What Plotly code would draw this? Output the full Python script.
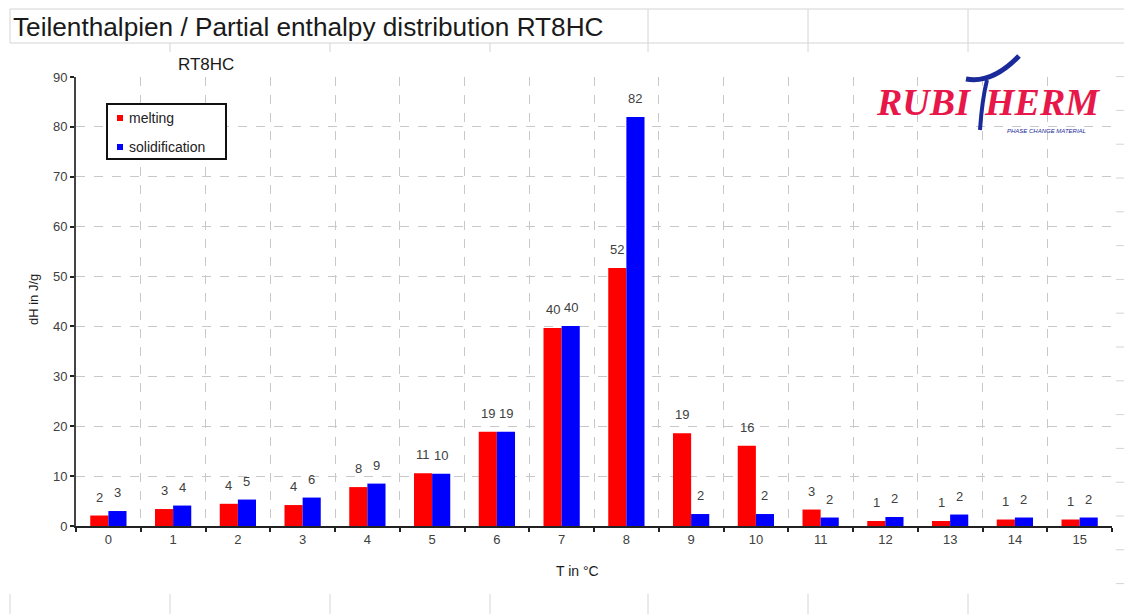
import math
import plotly.graph_objects as go

# ---------------- data ----------------
categories = [str(i) for i in range(16)]
melting = [2.1, 3.4, 4.45, 4.2, 7.8, 10.55, 18.9, 39.7, 51.7, 18.6, 16.1, 3.3, 1.0, 1.0, 1.3, 1.3]
solidification = [3.0, 4.1, 5.3, 5.7, 8.5, 10.45, 18.9, 40.1, 82.0, 2.4, 2.4, 1.7, 1.8, 2.3, 1.7, 1.7]
y_tick_vals = list(range(0, 100, 10))

title_text = "Teilenthalpien / Partial enthalpy distribution RT8HC"
chart_title = "RT8HC"
x_title = "T in °C"
y_title = "dH in J/g"

# ---------------- geometry helpers (pixel -> paper) ----------------
W, H = 1124, 614
L, R, T, B = 76, 1112, 77, 526


def px(x):
    return (x - L) / (R - L)


def py(y):
    return (B - y) / (B - T)


FONT = "Liberation Sans, Arial, sans-serif"
LABEL_COLOR = "#404040"
LOGO_RED = "#E8174A"
LOGO_BLUE = "#1a2a9a"

fig = go.Figure()
fig.add_bar(x=categories, y=melting, name="melting",
            marker=dict(color="#FF0000", line=dict(width=0)), showlegend=False)
fig.add_bar(x=categories, y=solidification, name="solidification",
            marker=dict(color="#0000FF", line=dict(width=0)), showlegend=False)

annotations = []
# data labels
for cat, v in zip(categories, melting):
    annotations.append(dict(x=cat, y=v, xref="x", yref="y", text=str(math.floor(v + 0.5)),
                            showarrow=False, xshift=-9, yshift=9, yanchor="bottom",
                            font=dict(family=FONT, size=13, color=LABEL_COLOR)))
for cat, v in zip(categories, solidification):
    annotations.append(dict(x=cat, y=v, xref="x", yref="y", text=str(math.floor(v + 0.5)),
                            showarrow=False, xshift=9, yshift=9, yanchor="bottom",
                            font=dict(family=FONT, size=13, color=LABEL_COLOR)))

# titles
annotations.append(dict(x=px(11), y=py(27), xref="paper", yref="paper", text=title_text,
                        showarrow=False, xanchor="left", yanchor="middle",
                        font=dict(family=FONT, size=26.2, color="#1a1a1a")))
annotations.append(dict(x=px(206), y=py(64), xref="paper", yref="paper", text=chart_title,
                        showarrow=False, xanchor="center", yanchor="middle",
                        font=dict(family=FONT, size=17, color="#1a1a1a")))
annotations.append(dict(x=px(577), y=py(571), xref="paper", yref="paper", text=x_title,
                        showarrow=False, xanchor="center", yanchor="middle",
                        font=dict(family=FONT, size=14, color="#1a1a1a")))
annotations.append(dict(x=px(33), y=py(300), xref="paper", yref="paper", text=y_title,
                        showarrow=False, xanchor="center", yanchor="middle", textangle=-90,
                        font=dict(family=FONT, size=13, color="#1a1a1a")))

# legend texts
annotations.append(dict(x=px(127), y=py(118), xref="paper", yref="paper", text="melting",
                        showarrow=False, xanchor="left", yanchor="middle",
                        font=dict(family=FONT, size=14, color="#222222")))
annotations.append(dict(x=px(127), y=py(147), xref="paper", yref="paper", text="solidification",
                        showarrow=False, xanchor="left", yanchor="middle",
                        font=dict(family=FONT, size=14, color="#222222")))

# logo
LOGO_FONT = dict(family="Liberation Serif, Times New Roman, serif", size=38, color=LOGO_RED)
annotations.append(dict(x=px(973), y=py(102), xref="paper", yref="paper",
                        text="<b><i>RUBI</i></b>", showarrow=False,
                        xanchor="right", yanchor="middle", font=LOGO_FONT))
annotations.append(dict(x=px(982), y=py(102), xref="paper", yref="paper",
                        text="<b><i>HERM</i></b>", showarrow=False,
                        xanchor="left", yanchor="middle", font=LOGO_FONT))
annotations.append(dict(x=px(1046), y=py(131), xref="paper", yref="paper",
                        text="<i>PHASE CHANGE MATERIAL</i>",
                        showarrow=False, xanchor="center", yanchor="middle",
                        font=dict(family=FONT, size=6, color=LOGO_BLUE)))

shapes = []
GRID = "#d4d4d4"
# spreadsheet cell lines
for yy in (9, 43):
    shapes.append(dict(type="line", xref="paper", yref="paper", x0=px(10), x1=px(1124),
                       y0=py(yy), y1=py(yy), line=dict(color=GRID, width=1)))
shapes.append(dict(type="line", xref="paper", yref="paper", x0=px(10), x1=px(10),
                   y0=py(9), y1=py(43), line=dict(color=GRID, width=1)))
for xx in (648, 808, 968):
    shapes.append(dict(type="line", xref="paper", yref="paper", x0=px(xx), x1=px(xx),
                       y0=py(9), y1=py(52), line=dict(color=GRID, width=1)))
for xx in (170, 330, 490):
    shapes.append(dict(type="line", xref="paper", yref="paper", x0=px(xx), x1=px(xx),
                       y0=py(43), y1=py(52), line=dict(color=GRID, width=1)))
for xx in (10, 170, 330, 490, 648, 808, 968):
    shapes.append(dict(type="line", xref="paper", yref="paper", x0=px(xx), x1=px(xx),
                       y0=py(594), y1=py(614), line=dict(color=GRID, width=1)))
for k in range(2, 18):
    yy = 9 + 33.8 * k
    shapes.append(dict(type="line", xref="paper", yref="paper", x0=px(1116), x1=px(1124),
                       y0=py(yy), y1=py(yy), line=dict(color=GRID, width=1)))

# legend box and swatches
shapes.append(dict(type="rect", xref="paper", yref="paper", x0=px(107), x1=px(226),
                   y0=py(104), y1=py(159), line=dict(color="#111111", width=2),
                   fillcolor="rgba(255,255,255,1)", layer="above"))
shapes.append(dict(type="rect", xref="paper", yref="paper", x0=px(117), x1=px(123),
                   y0=py(115), y1=py(121), line=dict(width=0), fillcolor="#FF0000"))
shapes.append(dict(type="rect", xref="paper", yref="paper", x0=px(117), x1=px(123),
                   y0=py(144), y1=py(150), line=dict(width=0), fillcolor="#0000FF"))

# logo "T": swoosh and stem
sw = "M {:.5f},{:.5f} Q {:.5f},{:.5f} {:.5f},{:.5f}".format(px(966), py(79), px(992), py(84), px(1019), py(56))
shapes.append(dict(type="path", xref="paper", yref="paper", path=sw,
                   line=dict(color=LOGO_BLUE, width=5)))
stem = "M {:.5f},{:.5f} Q {:.5f},{:.5f} {:.5f},{:.5f}".format(px(987), py(80), px(982), py(100), px(980), py(130))
shapes.append(dict(type="path", xref="paper", yref="paper", path=stem,
                   line=dict(color=LOGO_BLUE, width=4)))

fig.update_layout(
    width=W, height=H,
    margin=dict(l=L, r=W - R, t=T, b=H - B, pad=0),
    paper_bgcolor="white", plot_bgcolor="white",
    barmode="group", bargap=0.44, bargroupgap=0,
    font=dict(family=FONT, size=13, color=LABEL_COLOR),
    annotations=annotations, shapes=shapes,
    xaxis=dict(type="category", tickson="boundaries", showgrid=True, gridcolor="#c8c8c8",
               griddash="dash", gridwidth=1, showline=True, linecolor="#222222", linewidth=2,
               ticks="outside", ticklen=4, tickcolor="#222222", tickwidth=2,
               tickfont=dict(family=FONT, size=13, color=LABEL_COLOR), zeroline=False),
    yaxis=dict(range=[0, 90], tickvals=y_tick_vals, showgrid=True, gridcolor="#c8c8c8",
               griddash="dash", gridwidth=1, showline=True, linecolor="#444444", linewidth=2,
               ticks="outside", ticklen=4, tickcolor="#222222", tickwidth=2,
               tickfont=dict(family=FONT, size=13, color=LABEL_COLOR), zeroline=False),
)

fig.write_html("out.html")
